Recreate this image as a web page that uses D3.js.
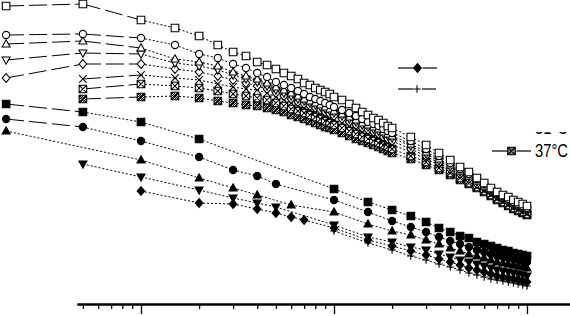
<!DOCTYPE html>
<html>
<head>
<meta charset="utf-8">
<script src="https://cdn.jsdelivr.net/npm/d3@7"></script>
<style>
  body { margin: 0; background: #fff; }
  svg { display: block; font-family: "Liberation Sans", Arial, sans-serif; }
</style>
</head>
<body>
<svg id="chart" width="570" height="316"></svg>
<script>
// frequency grids (Hz)
const freqOpen = [0.02,0.05,0.1,0.15,0.2,0.25,0.3,0.35,0.4,0.45,0.5,0.55,0.6,0.65,0.7,0.75,0.8,0.85,0.9,0.95,
                  1,1.1,1.2,1.3,1.4,1.5,1.6,1.7,1.8,1.9,2,2.5,3,3.5,4,4.5,5,5.5,6,6.5,7,7.5,8,8.5,9,9.5,10];
const freqFilled = [0.02,0.05,0.1,0.2,0.3,0.4,0.5,0.6,0.7,1,1.5,2,2.5,3,3.5,4,4.5,5,5.5,6,6.5,7,7.5,8,8.5,9,9.5,10];

// open symbols (upper group), log modulus
const sqOpen = [2.98,3.00,2.84,2.76,2.68,2.59,2.52,2.48,2.42,2.39,2.35,2.31,2.28,2.25,2.21,2.19,2.16,2.14,2.12,2.10,
  2.07,2.04,2.00,1.96,1.92,1.89,1.86,1.84,1.81,1.78,1.76,1.67,1.59,1.51,1.44,1.37,1.32,1.26,1.21,1.16,1.12,1.09,1.07,1.04,1.02,1.00,0.98];
const circOpen = [2.69,2.70,2.66,2.59,2.50,2.46,2.40,2.36,2.31,2.27,2.22,2.19,2.16,2.13,2.10,2.07,2.05,2.03,2.01,1.99,
  1.97,1.94,1.91,1.88,1.85,1.82,1.80,1.78,1.75,1.73,1.71,1.63,1.55,1.48,1.41,1.35,1.30,1.25,1.20,1.15,1.11,1.08,1.05,1.02,1.00,0.98,0.96];
const triOpen = [2.60,2.63,2.56,2.45,2.42,2.38,2.32,2.28,2.25,2.21,2.17,2.14,2.11,2.08,2.05,2.03,2.01,1.99,1.97,1.95,
  1.93,1.90,1.87,1.84,1.81,1.79,1.77,1.75,1.72,1.70,1.68,1.60,1.52,1.45,1.39,1.33,1.28,1.23,1.18,1.14,1.10,1.07,1.04,1.01,0.99,0.97,0.95];
const triDownOpen = [2.44,2.51,2.50,2.41,2.38,2.34,2.29,2.25,2.22,2.18,2.14,2.11,2.08,2.05,2.03,2.01,1.99,1.97,1.95,1.93,
  1.91,1.88,1.85,1.82,1.79,1.77,1.75,1.73,1.70,1.68,1.66,1.58,1.50,1.43,1.37,1.32,1.27,1.22,1.17,1.13,1.09,1.06,1.03,1.00,0.98,0.96,0.94];
const diamOpen = [2.26,2.40,2.40,2.35,2.32,2.28,2.24,2.21,2.18,2.15,2.11,2.08,2.05,2.02,2.00,1.98,1.96,1.94,1.92,1.90,
  1.88,1.85,1.82,1.79,1.76,1.74,1.72,1.70,1.67,1.65,1.63,1.55,1.48,1.41,1.35,1.30,1.25,1.20,1.16,1.12,1.08,1.05,1.02,0.99,0.97,0.95,0.93];
const crossOpen = [null,2.25,2.29,2.26,2.24,2.20,2.17,2.15,2.14,2.11,2.07,2.04,2.01,1.98,1.96,1.94,1.92,1.90,1.88,1.86,
  1.84,1.81,1.78,1.75,1.72,1.70,1.68,1.66,1.63,1.61,1.59,1.52,1.45,1.39,1.33,1.28,1.23,1.18,1.14,1.10,1.06,1.03,1.00,0.97,0.95,0.93,0.91];
const boxXOpen = [null,2.15,2.20,2.18,2.16,2.13,2.10,2.08,2.06,2.04,2.01,1.98,1.95,1.93,1.91,1.89,1.87,1.85,1.83,1.81,
  1.79,1.76,1.73,1.70,1.67,1.65,1.63,1.61,1.59,1.57,1.55,1.48,1.42,1.36,1.31,1.26,1.21,1.17,1.13,1.09,1.05,1.02,0.99,0.96,0.94,0.92,0.90];
const hatchOpen = [null,2.05,2.07,2.08,2.06,2.03,2.01,1.99,1.98,1.96,1.94,1.92,1.89,1.87,1.85,1.83,1.81,1.79,1.77,1.76,
  1.74,1.71,1.68,1.65,1.63,1.61,1.59,1.57,1.55,1.53,1.51,1.45,1.39,1.34,1.29,1.24,1.20,1.16,1.12,1.08,1.04,1.01,0.98,0.95,0.93,0.91,0.89];

// filled symbols (lower group)
const sqFilled = [2.00,1.92,1.82,1.65,null,null,null,null,null,1.15,1.02,0.94,0.88,0.82,0.76,0.72,0.68,0.66,0.62,0.60,0.58,0.56,0.54,0.53,0.51,0.50,0.49,0.48];
const circFilled = [1.85,1.77,1.63,1.47,1.34,1.28,1.20,null,null,1.04,0.92,0.83,0.77,0.72,0.67,0.63,0.60,0.57,0.54,0.52,0.50,0.48,0.47,0.46,0.45,0.44,0.43,0.42];
const triFilled = [1.73,null,1.44,1.26,1.16,1.09,null,0.99,null,0.92,0.80,0.73,0.69,0.64,0.60,0.56,0.53,0.50,0.48,0.46,0.44,0.42,0.41,0.40,0.39,0.38,0.37,0.36];
const triDownFilled = [null,1.40,1.27,1.14,1.06,1.01,0.97,null,null,0.79,0.67,0.62,0.57,0.54,0.50,0.47,0.44,0.42,0.40,0.38,0.36,0.34,0.33,0.32,0.31,0.30,0.29,0.28];
const diamFilled = [null,null,1.13,1.01,1.00,0.95,0.91,0.87,0.84,0.76,0.64,0.58,0.53,0.49,0.45,0.42,0.39,0.36,0.34,0.32,0.30,0.28,0.27,0.26,0.25,0.24,0.23,0.22];
const plusFilled = [null,null,null,null,null,null,null,null,null,0.73,0.61,0.54,0.48,0.44,0.40,0.37,0.34,0.31,0.29,0.27,0.25,0.24,0.23,0.22,0.21,0.20,0.19,0.18];

const majorTicks = [0.1, 1, 10];
const legendLabels = ['31°C', '37°C'];

const series = [
  {freq: freqFilled, vals: sqFilled, sym: 'square', fill: true, longTo: 0.05},
  {freq: freqFilled, vals: circFilled, sym: 'circle', fill: true, longTo: 0.05},
  {freq: freqFilled, vals: triFilled, sym: 'triUp', fill: true, longTo: 0},
  {freq: freqFilled, vals: triDownFilled, sym: 'triDown', fill: true, longTo: 0},
  {freq: freqFilled, vals: diamFilled, sym: 'diamond', fill: true, longTo: 0},
  {freq: freqFilled, vals: plusFilled, sym: 'plus', fill: true, longTo: 0},
  {freq: freqOpen, vals: hatchOpen, sym: 'hatch', fill: false, longTo: 0.1},
  {freq: freqOpen, vals: boxXOpen, sym: 'boxX', fill: false, longTo: 0.1},
  {freq: freqOpen, vals: crossOpen, sym: 'cross', fill: false, longTo: 0.1},
  {freq: freqOpen, vals: diamOpen, sym: 'diamond', fill: false, longTo: 0.1},
  {freq: freqOpen, vals: triDownOpen, sym: 'triDown', fill: false, longTo: 0.1},
  {freq: freqOpen, vals: triOpen, sym: 'triUp', fill: false, longTo: 0.1},
  {freq: freqOpen, vals: circOpen, sym: 'circle', fill: false, longTo: 0.1},
  {freq: freqOpen, vals: sqOpen, sym: 'square', fill: false, longTo: 0.1}
];

const svg = d3.select('#chart');

const defs = svg.append('defs');
defs.append('pattern').attr('id', 'hatchPat')
  .attr('width', 2).attr('height', 2).attr('patternUnits', 'userSpaceOnUse')
  .call(p => {
    p.append('rect').attr('width', 2).attr('height', 2).attr('fill', '#fff');
    p.append('rect').attr('width', 1).attr('height', 1).attr('fill', '#000');
    p.append('rect').attr('x', 1).attr('y', 1).attr('width', 1).attr('height', 1).attr('fill', '#000');
  });

const x = d3.scaleLog().domain([0.1, 10]).range([141, 527]);
const y = d3.scaleLinear().domain([0, 3]).range([304, 4]);

// symbol paths
function symPath(type, h) {
  switch (type) {
    case 'square':
    case 'boxX':
    case 'hatch': {
      let p = `M${-h},${-h}H${h}V${h}H${-h}Z`;
      if (type !== 'square') p += `M${-h},${-h}L${h},${h}M${h},${-h}L${-h},${h}`;
      return p;
    }
    case 'circle':
      return `M${h},0A${h},${h} 0 1,1 ${-h},0A${h},${h} 0 1,1 ${h},0Z`;
    case 'triUp':
      return `M0,${-h * 1.1}L${h * 1.05},${h * 0.8}L${-h * 1.05},${h * 0.8}Z`;
    case 'triDown':
      return `M0,${h * 1.1}L${h * 1.05},${-h * 0.8}L${-h * 1.05},${-h * 0.8}Z`;
    case 'diamond':
      return `M0,${-h * 1.15}L${h},0L0,${h * 1.15}L${-h},0Z`;
    case 'cross':
      return `M${-h},${-h}L${h},${h}M${h},${-h}L${-h},${h}`;
    case 'plus':
      return `M${-h},0H${h}M0,${-h}V${h}`;
  }
}

function drawSymbol(g, s, cx, cy) {
  const h = s.sym === 'circle' ? 3.6 : 3.8;
  const path = g.append('path')
    .attr('transform', `translate(${cx},${cy})`)
    .attr('d', symPath(s.sym, h))
    .attr('stroke', '#000')
    .attr('stroke-width', 1.1);
  if (s.sym === 'cross' || s.sym === 'plus') path.attr('fill', 'none');
  else if (s.sym === 'hatch') path.attr('fill', 'url(#hatchPat)');
  else path.attr('fill', s.fill ? '#000' : '#fff');
}

// x axis (ticks only, labels fall below the picture)
const axisScale = x.copy().domain([0.0466, 16.7]).range([x(0.0466), x(16.7)]);
const minorTicks = axisScale.ticks().filter(v => !majorTicks.includes(v));
const axisG = svg.append('g').attr('transform', 'translate(0,304)');
axisG.append('g')
  .call(d3.axisBottom(axisScale).tickValues(minorTicks).tickSize(5).tickSizeOuter(0).tickFormat(''));
axisG.append('g')
  .call(d3.axisBottom(axisScale).tickValues(majorTicks).tickSize(10).tickSizeOuter(0).tickFormat(''));
axisG.selectAll('.domain').attr('stroke-width', 2);
axisG.selectAll('.tick line').attr('stroke-width', 1.3);

// series lines
const lineG = svg.append('g');
const line = d3.line().x(d => x(d[0])).y(d => y(d[1]));
series.forEach(s => {
  const pts = s.freq.map((f, i) => [f, s.vals[i]]).filter(d => d[1] != null);
  d3.pairs(pts).forEach(([a, b]) => {
    lineG.append('path')
      .attr('d', line([a, b]))
      .attr('fill', 'none')
      .attr('stroke', '#000')
      .attr('stroke-width', 1)
      .attr('stroke-dasharray', b[0] <= s.longTo ? '18,5' : '2,2');
  });
});

// markers
const markG = svg.append('g');
series.forEach(s => {
  s.freq.forEach((f, i) => {
    if (s.vals[i] == null) return;
    drawSymbol(markG, s, x(f), y(s.vals[i]));
  });
});

// legend (partly hidden in the original)
const leg = svg.append('g');
function addLabel(g, tx, ty, label) {
  return g.append('text').attr('x', tx).attr('y', ty)
    .attr('font-size', 19).attr('fill', '#000')
    .attr('textLength', 33).attr('lengthAdjust', 'spacingAndGlyphs')
    .text(label);
}
function legendRow(s, x0, x1, cy, label) {
  const mid = (x0 + x1) / 2;
  leg.append('line').attr('x1', x0).attr('x2', mid - 4).attr('y1', cy).attr('y2', cy)
    .attr('stroke', '#000').attr('stroke-width', 1.2);
  leg.append('line').attr('x1', mid + 5).attr('x2', x1).attr('y1', cy).attr('y2', cy)
    .attr('stroke', '#000').attr('stroke-width', 1.2);
  drawSymbol(leg, s, mid, cy);
  if (label) addLabel(leg, x1 + 4, cy + 6, label);
}
legendRow(series[4], 398, 437, 68);
legendRow(series[5], 398, 436, 89);

defs.append('clipPath').attr('id', 'legClip')
  .append('rect').attr('x', 480).attr('y', 132).attr('width', 90).attr('height', 2.5);
const clipped = leg.append('g').attr('clip-path', 'url(#legClip)');
addLabel(clipped, 535, 134, legendLabels[0]);

legendRow(series[6], 492, 531, 151, legendLabels[1]);
</script>
</body>
</html>
